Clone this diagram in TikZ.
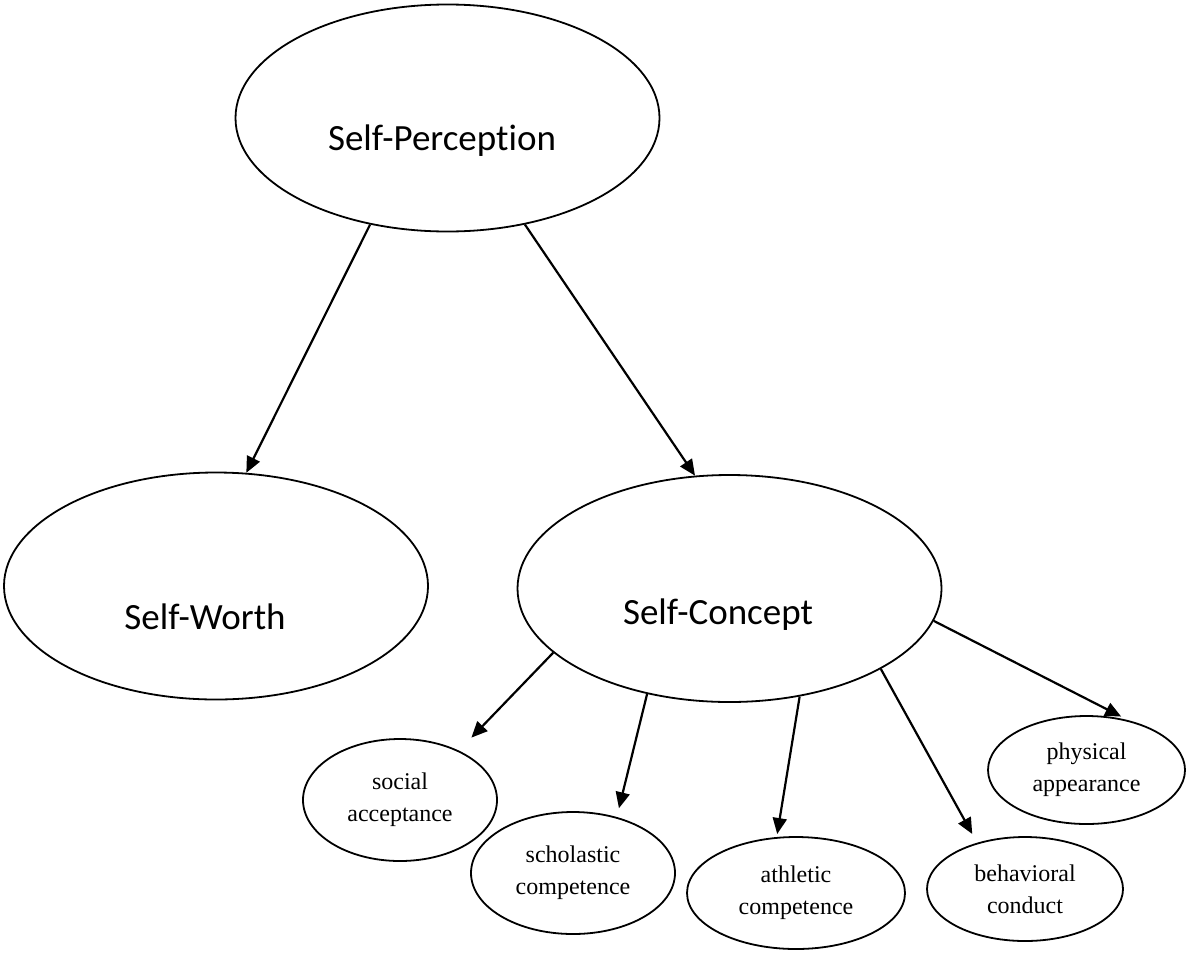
\documentclass[tikz,border=0pt]{standalone}
\usepackage{fontspec}
\setmainfont{Liberation Serif}
\newfontfamily\calibrifont[Ligatures=NoCommon]{Carlito}
\usetikzlibrary{shapes.geometric,arrows.meta}

\begin{document}
\begin{tikzpicture}[x=0.5pt,y=-0.5pt,
      bigoval/.style={draw,ellipse,line width=0.9pt,minimum width=212pt,minimum height=113.5pt},
      smalloval/.style={draw,ellipse,line width=0.9pt,inner sep=0pt,align=center,
         font=\fontsize{12}{16}\selectfont},
      bigtext/.style={anchor=base,font=\calibrifont\fontsize{18.5}{22}\selectfont},
      arr/.style={-{Triangle[length=8pt,width=7pt]},line width=1.1pt}]
      \useasboundingbox (0,0) rectangle (1186,958);

      \node[bigoval] (perc) at (447.5,118) {};
      \node[bigoval] (worth) at (216,586) {};
      \node[bigoval] (concept) at (729.5,588.5) {};
      \node[bigtext] (perclabel) at (442,150) {Self-Perception};
      \node[bigtext] (worthlabel) at (205,629) {Self-Worth};
      \node[bigtext] (conceptlabel) at (718,624) {Self-Concept};

      \node[smalloval,minimum width=97pt,minimum height=61pt] (social) at (400,800) {social\\acceptance};
      \node[smalloval,minimum width=102pt,minimum height=61pt] (scholastic) at (573,873) {scholastic\\competence};
      \node[smalloval,minimum width=109pt,minimum height=56pt] (athletic) at (796,893) {athletic\\competence};
      \node[smalloval,minimum width=98pt,minimum height=52pt] (conduct) at (1025,889) {behavioral\\conduct};
      \node[smalloval,minimum width=98.5pt,minimum height=54pt] (looks) at (1086.5,770) {physical\\appearance};

      \draw[arr] (perc.234) -- (worth.75);
      \draw[arr] (perc.306) -- (concept.107);
      \draw[arr,shorten >=9pt] (concept.200) -- (social.40);
      \draw[arr,shorten >=4.5pt] (concept.232) -- (scholastic.52);
      \draw[arr,shorten >=1.5pt] (concept.303) -- (athletic.109);
      \draw[arr,shorten >=5pt] (concept.332) -- (conduct.136);
      \draw[arr,shorten >=4pt] (concept.351) -- (looks.50);
   \end{tikzpicture}
\end{document}
